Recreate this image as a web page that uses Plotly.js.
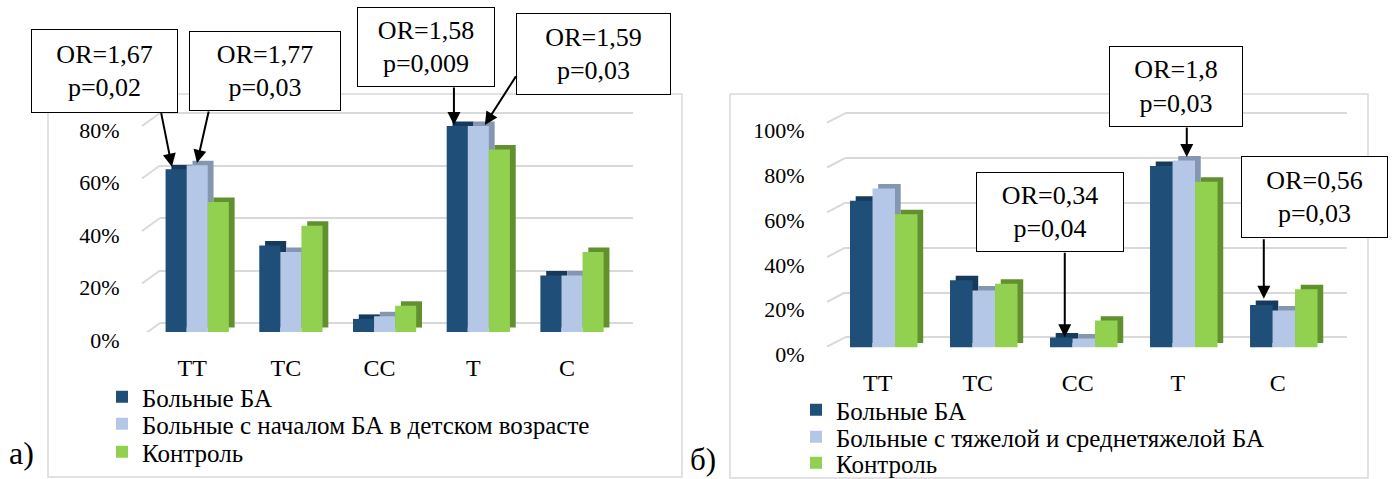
<!DOCTYPE html>
<html>
<head>
<meta charset="utf-8">
<script src="https://cdn.plot.ly/plotly-3.0.1.min.js"></script>
<style>
html,body{margin:0;padding:0;background:#fff;}
#chart{width:1394px;height:479px;}
</style>
</head>
<body>
<div id="chart"></div>
<script>
// ---------- data ----------
const categories = ['TT', 'TC', 'CC', 'T', 'C'];

const namesA = ['Больные БА', 'Больные с началом БА в детском возрасте', 'Контроль'];
const aPatients  = [62, 33, 5, 78.5, 21.5];
const aChildhood = [63.5, 30.5, 6, 78.5, 21.5];
const aControl   = [49.5, 40.5, 10, 69.5, 30.5];

const namesB = ['Больные БА', 'Больные с тяжелой и среднетяжелой БА', 'Контроль'];
const bPatients = [65.5, 30, 4.5, 81, 19];
const bSevere   = [71, 25.5, 4, 83.5, 16.5];
const bControl  = [59.5, 28.5, 12, 74, 26];

const yTicksA = [0, 20, 40, 60, 80];
const yTickTextA = ['0%', '20%', '40%', '60%', '80%'];
const yTicksB = [0, 20, 40, 60, 80, 100];
const yTickTextB = ['0%', '20%', '40%', '60%', '80%', '100%'];

const orA = ['OR=1,67', 'OR=1,77', 'OR=1,58', 'OR=1,59'];
const pA  = ['p=0,02', 'p=0,03', 'p=0,009', 'p=0,03'];
const orB = ['OR=1,8', 'OR=0,34', 'OR=0,56'];
const pB  = ['p=0,03', 'p=0,04', 'p=0,03'];

const panelLabels = ['а)', 'б)'];

// ---------- styling ----------
const W = 1394, H = 479;
const px = v => v / W;
const py = v => 1 - v / H;
const FONT = 'Liberation Serif';
const frontColors  = ['#1f4e79', '#b4c7e7', '#92d050'];
const shadowColors = ['#17395b', '#8596b0', '#62902f'];
const BW = 0.225;
const OFFS = [-0.3375, -0.1125, 0.1125];
const GRID = '#d9d9d9';

function chartTraces(seriesList, names, xa, ya, legendIds, dx, dy) {
  const out = [];
  seriesList.forEach((vals, i) => {
    out.push({
      type: 'bar', x: categories, y: vals, base: dy,
      offset: OFFS[i] + dx, width: BW,
      marker: {color: shadowColors[i], line: {width: 0}},
      xaxis: xa, yaxis: ya, showlegend: false, hoverinfo: 'skip'
    });
    out.push({
      type: 'bar', x: categories, y: vals, name: names[i],
      offset: OFFS[i], width: BW,
      marker: {color: frontColors[i], line: {width: 0}},
      xaxis: xa, yaxis: ya, legend: legendIds[i], showlegend: true
    });
  });
  return out;
}

const traces = [].concat(
  chartTraces([aPatients, aChildhood, aControl], namesA, 'x', 'y2', ['legend', 'legend2', 'legend3'], 0.062, 1.7),
  chartTraces([bPatients, bSevere, bControl], namesB, 'x2', 'y4', ['legend4', 'legend5', 'legend6'], 0.057, 2.0)
);

const yTickFont = {family: FONT, size: 22, color: '#000'};
const xTickFont = {family: FONT, size: 24, color: '#000'};

const layout = {
  width: W, height: H,
  margin: {l: 0, r: 0, t: 0, b: 0, autoexpand: false},
  paper_bgcolor: '#fff', plot_bgcolor: 'rgba(0,0,0,0)',
  barmode: 'overlay',
  showlegend: true,
  font: {family: FONT, color: '#000'},
  // left chart
  xaxis: {
    domain: [px(160), px(633)], anchor: 'y', type: 'category',
    range: [-0.397, 4.651], showgrid: false, zeroline: false, showline: false,
    ticks: 'outside', ticklen: 14, tickcolor: 'rgba(0,0,0,0)', ticklabelshift: -5,
    tickfont: xTickFont, fixedrange: true
  },
  yaxis: {
    domain: [py(332), py(111)], anchor: 'x',
    range: [-3.43, 80.76], tickvals: yTicksA, showticklabels: false,
    showgrid: true, gridcolor: GRID, gridwidth: 2, zeroline: false, showline: false, fixedrange: true
  },
  yaxis2: {
    overlaying: 'y', anchor: 'x', side: 'left',
    range: [0, 84.2], tickvals: yTicksA, ticktext: yTickTextA,
    showgrid: false, zeroline: false, showline: false,
    ticks: 'outside', ticklen: 35, tickcolor: 'rgba(0,0,0,0)', ticklabelshift: 8,
    tickfont: yTickFont, fixedrange: true
  },
  // right chart
  xaxis2: {
    domain: [px(845), px(1347)], anchor: 'y3', type: 'category',
    range: [-0.3875, 4.632], showgrid: false, zeroline: false, showline: false,
    ticks: 'outside', ticklen: 14, tickcolor: 'rgba(0,0,0,0)', ticklabelshift: -6,
    tickfont: xTickFont, fixedrange: true
  },
  yaxis3: {
    domain: [py(347.5), py(111)], anchor: 'x2',
    range: [-4.55, 101.03], tickvals: yTicksB, showticklabels: false,
    showgrid: true, gridcolor: GRID, gridwidth: 2, zeroline: false, showline: false, fixedrange: true
  },
  yaxis4: {
    overlaying: 'y3', anchor: 'x2', side: 'left',
    range: [0, 105.58], tickvals: yTicksB, ticktext: yTickTextB,
    showgrid: false, zeroline: false, showline: false,
    ticks: 'outside', ticklen: 35, tickcolor: 'rgba(0,0,0,0)', ticklabelshift: 7,
    tickfont: yTickFont, fixedrange: true
  },
  shapes: [],
  annotations: []
};

// one legend per row so the row spacing matches the original
function legendAt(xPix, yPix) {
  return {x: px(xPix), y: py(yPix), xanchor: 'left', yanchor: 'middle',
    bgcolor: 'rgba(0,0,0,0)', borderwidth: 0,
    font: {family: FONT, size: 25, color: '#000'}};
}
const legendRowsA = [397, 424, 452];
const legendRowsB = [410, 437, 463];
['legend', 'legend2', 'legend3'].forEach((id, i) => { layout[id] = legendAt(102, legendRowsA[i]); });
['legend4', 'legend5', 'legend6'].forEach((id, i) => { layout[id] = legendAt(796, legendRowsB[i]); });

// chart frames
layout.shapes.push({type: 'rect', xref: 'paper', yref: 'paper', x0: px(48), x1: px(682), y0: py(477), y1: py(94),
  line: {color: GRID, width: 1.5}, layer: 'below'});
layout.shapes.push({type: 'rect', xref: 'paper', yref: 'paper', x0: px(730), x1: px(1368), y0: py(478), y1: py(94),
  line: {color: GRID, width: 1.5}, layer: 'below'});

// perspective stubs of the gridlines
yTicksA.forEach(v => layout.shapes.push({type: 'line', xref: 'paper', yref: 'y', layer: 'below',
  x0: px(142), x1: px(160), y0: v - 13 / 2.625, y1: v, line: {color: GRID, width: 2}}));
yTicksB.forEach(v => layout.shapes.push({type: 'line', xref: 'paper', yref: 'y3', layer: 'below',
  x0: px(827), x1: px(845), y0: v - 9.4 / 2.24, y1: v, line: {color: GRID, width: 2}}));

// arrows
function arrow(xa, ya, xv, yv, ax, ay) {
  return {xref: xa, yref: ya, x: xv, y: yv, text: '', showarrow: true, ax: ax, ay: ay,
    arrowhead: 2, arrowsize: 1.3, arrowwidth: 2, arrowcolor: '#000', standoff: 0, startstandoff: 0};
}
layout.annotations.push(arrow('x', 'y2', 0 - 0.27, aPatients[0] + 1, -11, -55));
layout.annotations.push(arrow('x', 'y2', 0 - 0.002, aChildhood[0] + 0.9, 12, -53));
layout.annotations.push(arrow('x', 'y2', 3 - 0.26, aPatients[3] + 0.4, 0, -39));
layout.annotations.push(arrow('x', 'y2', 3 + 0.07, aChildhood[3] + 0.4, 32, -50));
layout.annotations.push(arrow('x2', 'y4', 3 + 0.03, bSevere[3] + 1.5, 0, -31));
layout.annotations.push(arrow('x2', 'y4', 2 - 0.19, bPatients[2] + 0.1, 0, -86));
layout.annotations.push(arrow('x2', 'y4', 4 - 0.2, bPatients[4] + 2.8, 0, -61));

// OR boxes
function box(txt, cx, cy, w, h) {
  return {xref: 'paper', yref: 'paper', x: px(cx), y: py(cy), xanchor: 'center', yanchor: 'middle',
    text: txt, showarrow: false, width: w, height: h, bgcolor: '#fff', bordercolor: '#000',
    borderwidth: 1, borderpad: 0, align: 'center', valign: 'middle',
    font: {family: FONT, size: 26, color: '#000'}};
}
const boxesA = [[104.5, 71, 145, 82], [265, 71, 150, 78], [426, 47, 136, 78], [593.5, 54, 153, 80]];
boxesA.forEach((b, i) => layout.annotations.push(box(orA[i] + '<br>' + pA[i], b[0], b[1], b[2], b[3])));
const boxesB = [[1176, 86.5, 132, 79], [1050, 212, 146, 78], [1314.5, 197, 145, 80]];
boxesB.forEach((b, i) => layout.annotations.push(box(orB[i] + '<br>' + pB[i], b[0], b[1], b[2], b[3])));

// panel labels
layout.annotations.push({xref: 'paper', yref: 'paper', x: px(21), y: py(453), xanchor: 'center', yanchor: 'middle',
  text: panelLabels[0], showarrow: false, font: {family: FONT, size: 32, color: '#000'}});
layout.annotations.push({xref: 'paper', yref: 'paper', x: px(703), y: 0, xanchor: 'center', yanchor: 'bottom',
  text: panelLabels[1], showarrow: false, font: {family: FONT, size: 31, color: '#000'}});

Plotly.newPlot('chart', traces, layout, {displayModeBar: false, staticPlot: true});
</script>
</body>
</html>
